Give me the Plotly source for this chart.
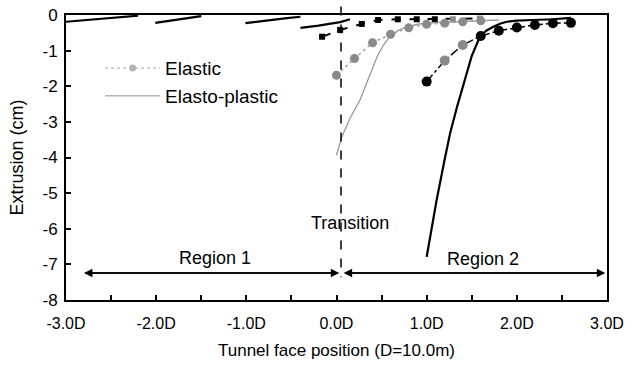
import plotly.graph_objects as go

# ---- data ----
# Elastic, face at 0.0D (grey markers, dotted)
el_a_x = [0.0, 0.2, 0.4, 0.6, 0.8, 1.0, 1.2, 1.4, 1.6]
el_a_y = [-1.69, -1.22, -0.78, -0.54, -0.36, -0.26, -0.23, -0.19, -0.16]
# Elasto-plastic, face at 0.0D (grey solid)
ep_a_x = [0.0, 0.06, 0.15, 0.26, 0.36, 0.45, 0.52, 0.59, 0.68, 0.78, 0.9, 1.0, 1.2, 1.4, 1.6, 1.8]
ep_a_y = [-3.93, -3.42, -2.9, -2.39, -1.75, -1.17, -0.85, -0.61, -0.44, -0.33, -0.26, -0.23, -0.2, -0.18, -0.16, -0.14]
# Elastic, face at 1.0D (black markers, dash-dot)
el_b_x = [1.0, 1.2, 1.4, 1.6, 1.8, 2.0, 2.2, 2.4, 2.6]
el_b_y = [-1.87, -1.28, -0.84, -0.59, -0.44, -0.35, -0.28, -0.23, -0.22]
el_b_colors = ["black", "#8a8a8a", "#8a8a8a", "black", "black", "black", "black", "black", "black"]
# Elasto-plastic, face at 1.0D (black solid)
ep_b_x = [1.0, 1.11, 1.2, 1.26, 1.34, 1.41, 1.5, 1.59, 1.66, 1.74, 1.82, 1.89, 2.0, 2.18, 2.4, 2.6]
ep_b_y = [-6.79, -5.2, -4.05, -3.32, -2.55, -1.91, -1.15, -0.61, -0.44, -0.33, -0.24, -0.19, -0.16, -0.14, -0.12, -0.08]
# Earlier stages near the surface (black solid segments)
seg1_x = [-3.0, -2.7, -2.4, -2.2]
seg1_y = [-0.19, -0.12, -0.05, -0.02]
seg2_x = [-2.01, -1.8, -1.66, -1.5]
seg2_y = [-0.22, -0.14, -0.08, -0.03]
seg3_x = [-1.01, -0.8, -0.55, -0.4]
seg3_y = [-0.23, -0.16, -0.09, -0.05]
seg4_x = [-0.4, -0.2, 0.04, 0.15]
seg4_y = [-0.36, -0.3, -0.2, -0.12]
# Dashed black line with squares
sq_x = [-0.16, 0.04, 0.28, 0.46, 0.68, 0.89, 1.09, 1.29, 1.59]
sq_y = [-0.61, -0.42, -0.25, -0.14, -0.12, -0.12, -0.12, -0.12, -0.1]
sq_colors = ["black", "black", "black", "black", "black", "black", "black", "#8a8a8a", "#8a8a8a"]

x_tickvals = [-3.0, -2.5, -2.0, -1.5, -1.0, -0.5, 0.0, 0.5, 1.0, 1.5, 2.0, 2.5, 3.0]
x_ticktext = ["-3.0D", "", "-2.0D", "", "-1.0D", "", "0.0D", "", "1.0D", "", "2.0D", "", "3.0D"]
y_tickvals = [-8, -7, -6, -5, -4, -3, -2, -1, 0]
y_ticktext = ["-8", "-7", "-6", "-5", "-4", "-3", "-2", "-1", "0"]

transition_x = 0.05
arrow_y = -7.24
region1_start = -2.8
region2_end = 2.98

FONT = "Liberation Sans, Arial, sans-serif"
GREY = "#9a9a9a"

fig = go.Figure()

for sx, sy in [(seg1_x, seg1_y), (seg2_x, seg2_y), (seg3_x, seg3_y), (seg4_x, seg4_y)]:
    fig.add_trace(go.Scatter(x=sx, y=sy, mode="lines", line=dict(color="black", width=2.2),
                             showlegend=False, hoverinfo="skip"))

fig.add_trace(go.Scatter(x=sq_x, y=sq_y, mode="lines+markers",
                         line=dict(color="black", width=2, dash="dash"),
                         marker=dict(symbol="square", size=6, color=sq_colors),
                         showlegend=False))

fig.add_trace(go.Scatter(x=ep_a_x, y=ep_a_y, mode="lines", name="Elasto-plastic",
                         line=dict(color=GREY, width=1.3), showlegend=False))
fig.add_trace(go.Scatter(x=el_a_x, y=el_a_y, mode="lines+markers", name="Elastic",
                         line=dict(color=GREY, width=1.3, dash="dot"),
                         marker=dict(symbol="circle", size=9, color="#8a8a8a"),
                         showlegend=False))
fig.add_trace(go.Scatter(x=ep_b_x, y=ep_b_y, mode="lines", line=dict(color="black", width=2.2),
                         showlegend=False))
fig.add_trace(go.Scatter(x=el_b_x, y=el_b_y, mode="lines+markers",
                         line=dict(color="black", width=1.5, dash="dashdot"),
                         marker=dict(symbol="circle", size=10, color=el_b_colors),
                         showlegend=False))

# legend entries
fig.add_trace(go.Scatter(x=[None], y=[None], mode="lines+markers", name="Elastic",
                         line=dict(color="#b5b5b5", width=1.3, dash="dot"),
                         marker=dict(symbol="circle", size=7, color="#b5b5b5")))
fig.add_trace(go.Scatter(x=[None], y=[None], mode="lines", name="Elasto-plastic",
                         line=dict(color="#b5b5b5", width=1.3)))

fig.add_shape(type="line", xref="x", yref="paper", x0=transition_x, x1=transition_x,
              y0=1.03, y1=0.08, line=dict(color="black", width=1.5, dash="dash"))

for tail, head in [(transition_x - 0.02, region1_start), (region1_start, transition_x - 0.02),
                   (transition_x + 0.03, region2_end), (region2_end, transition_x + 0.03)]:
    fig.add_annotation(x=head, y=arrow_y, ax=tail, ay=arrow_y, axref="x", ayref="y",
                       xref="x", yref="y", text="", showarrow=True, arrowhead=2,
                       arrowsize=1.2, arrowwidth=1.4, arrowcolor="black", standoff=0)

fig.add_annotation(x=-1.35, y=-6.82, text="Region 1", showarrow=False,
                   font=dict(family=FONT, size=18, color="black"))
fig.add_annotation(x=1.62, y=-6.86, text="Region 2", showarrow=False,
                   font=dict(family=FONT, size=18, color="black"))
fig.add_annotation(x=0.15, y=-5.85, text="Transition", showarrow=False,
                   font=dict(family=FONT, size=18, color="black"))

fig.update_layout(
    width=635, height=365,
    margin=dict(l=66, r=28, t=15, b=65),
    plot_bgcolor="white", paper_bgcolor="white",
    font=dict(family=FONT, size=17, color="black"),
    legend=dict(x=0.063, y=0.88, xanchor="left", yanchor="top",
                bgcolor="rgba(0,0,0,0)", font=dict(family=FONT, size=19), tracegroupgap=0,
                itemwidth=55),
    xaxis=dict(range=[-3, 3], tickmode="array", tickvals=x_tickvals, ticktext=x_ticktext,
               ticks="inside", ticklen=5, tickwidth=1.5, tickcolor="black",
               ticklabelstandoff=8, tickfont=dict(family=FONT, size=16),
               showline=True, linecolor="black", linewidth=2, mirror=True,
               showgrid=False, zeroline=False, automargin=False,
               title=dict(text="Tunnel face position (D=10.0m)", standoff=13,
                          font=dict(family=FONT, size=17))),
    yaxis=dict(range=[-8, 0], tickmode="array", tickvals=y_tickvals, ticktext=y_ticktext,
               ticks="inside", ticklen=5, tickwidth=1.5, tickcolor="black",
               tickfont=dict(family=FONT, size=17), ticklabelstandoff=3,
               showline=True, linecolor="black", linewidth=2, mirror=True,
               showgrid=False, zeroline=False, automargin=False,
               title=dict(text="Extrusion (cm)", standoff=14, font=dict(family=FONT, size=18))),
)

fig.write_html("out.html")
